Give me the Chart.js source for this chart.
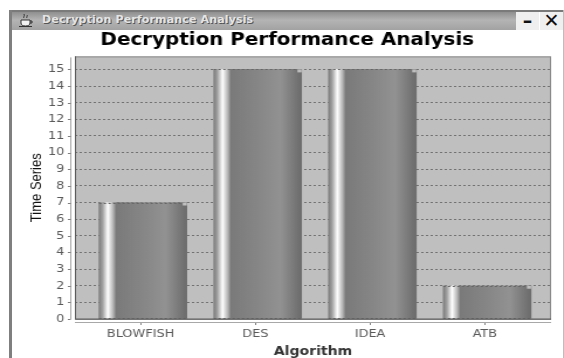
<!DOCTYPE html>
<html>
<head>
<meta charset="utf-8">
<title>Decryption Performance Analysis</title>
<script src="https://cdn.jsdelivr.net/npm/chart.js@4"></script>
<style>
  html, body { margin: 0; padding: 0; background: #fff; overflow: hidden; }
  #win { position: relative; width: 564px; height: 358px; overflow: hidden; }
  #frame-top { position: absolute; left: 9px; right: 0; top: 10px; height: 2px; background: #7a7a7a; }
  #frame-left { position: absolute; left: 9px; top: 10px; bottom: 0; width: 3px; background: #7f7f7f; }
  #frame-right { position: absolute; right: 0; top: 10px; bottom: 0; width: 1px; background: #bdbdbd; }
  #bar { position: absolute; left: 12px; top: 12px; width: 504px; height: 18px;
         background: linear-gradient(#8f8f8f, #b4b4b4 45%, #a2a2a2); }
  #bar span { position: absolute; left: 30px; top: 1px; font: bold 11px "DejaVu Sans", sans-serif;
              letter-spacing: 0.15px; color: #e4e4e4; text-shadow: 1px 1px 0 #555; white-space: nowrap; }
  #bar svg { position: absolute; left: 6px; top: 1px; }
  .btn { position: absolute; top: 12px; height: 18px; width: 23px; background: #efefef;
         font: bold 19px "DejaVu Sans", sans-serif; color: #111; text-align: center; line-height: 17px; }
  /* the chart panel is laid out narrow and widened to fill the window */
  canvas { position: absolute; left: 0; top: 0; transform-origin: 0 0; transform: scaleX(1.17); }
</style>
</head>
<body>
<div id="win">
  <div id="frame-top"></div>
  <div id="frame-left"></div>
  <div id="frame-right"></div>
  <div id="bar">
    <svg width="16" height="16" viewBox="0 0 16 16">
      <path d="M3 7h9v3c0 2-2 3-4.500 3S3 12 3 10z" fill="#f2f2f2" stroke="#333"/>
      <path d="M12 8h2v2h-2M1 13.500h13" fill="none" stroke="#333"/>
      <path d="M6 5c-1-1 1-2 0-4M9 5c-1-1 1-2 0-3" fill="none" stroke="#333"/>
    </svg>
    <span>Decryption Performance Analysis</span>
  </div>
  <div class="btn" style="left:516px">&#8211;</div>
  <div class="btn" style="left:540px">&#10005;</div>
  <canvas id="chart" width="482" height="358"></canvas>
</div>
<script>
// Decryption time per algorithm
const algorithms = ['BLOWFISH', 'DES', 'IDEA', 'ATB'];
const timeValues = [7, 15, 15, 2];
const timeTicks = [0, 1, 2, 3, 4, 5, 6, 7, 8, 9, 10, 11, 12, 13, 14, 15];

const PLOT_BG = '#bfbfbf';
const BAR_WIDTH = 75;

// Horizontal metallic shading of one bar
function barShade(ctx) {
  const x = ctx.chart.scales.x;
  if (!x || ctx.dataIndex === undefined) return '#808080';
  const cx = x.getPixelForValue(ctx.dataIndex);
  if (!Number.isFinite(cx)) return '#808080';
  const g = ctx.chart.ctx.createLinearGradient(cx - BAR_WIDTH / 2, 0, cx + BAR_WIDTH / 2, 0);
  g.addColorStop(0, '#7c7c7c');
  g.addColorStop(0.04, '#a0a0a0');
  g.addColorStop(0.10, '#ffffff');
  g.addColorStop(0.16, '#b4b4b4');
  g.addColorStop(0.195, '#7a7a7a');
  g.addColorStop(0.5, '#868686');
  g.addColorStop(0.76, '#929292');
  g.addColorStop(0.98, '#6e6e6e');
  g.addColorStop(1, '#6e6e6e');
  return g;
}

// Plot backdrop, offset axis lines, and the bar details
const plotDecor = {
  id: 'plotDecor',
  beforeDraw(chart) {
    const { ctx, chartArea: a } = chart;
    ctx.save();
    ctx.fillStyle = PLOT_BG;
    ctx.fillRect(a.left, a.top, a.right - a.left, a.bottom - a.top);
    ctx.restore();
  },
  afterDatasetsDraw(chart) {
    const { ctx, chartArea: a, scales } = chart;
    const meta = chart.getDatasetMeta(0);
    ctx.save();
    meta.data.forEach((el) => {
      const right = el.x + el.width / 2;
      const left = el.x - el.width / 2;
      // clipped top-right corner
      ctx.fillStyle = PLOT_BG;
      ctx.fillRect(right - 3.5, el.y, 3.5, 3);
      // dashed lines stay visible along the top and base of each bar
      ctx.strokeStyle = '#666666';
      ctx.lineWidth = 1;
      ctx.setLineDash([2, 2]);
      ctx.beginPath();
      ctx.moveTo(left, Math.round(el.y) + 0.5);
      ctx.lineTo(right - 3.5, Math.round(el.y) + 0.5);
      ctx.moveTo(left, Math.round(el.base) - 0.5);
      ctx.lineTo(right, Math.round(el.base) - 0.5);
      ctx.stroke();
      ctx.setLineDash([]);
    });

    // plot outline
    ctx.strokeStyle = '#8a8a8a';
    ctx.strokeRect(a.left + 0.5, a.top + 0.5, a.right - a.left - 1, a.bottom - a.top);
    ctx.strokeStyle = '#5c5c5c';
    ctx.beginPath();
    ctx.moveTo(a.left + 0.5, a.top);
    ctx.lineTo(a.left + 0.5, a.bottom);
    ctx.lineTo(a.right, a.bottom);
    ctx.stroke();

    // axis lines sit a few pixels clear of the plot
    ctx.strokeStyle = '#a8a8a8';
    ctx.beginPath();
    ctx.moveTo(a.left - 3.5, a.top + 1);
    ctx.lineTo(a.left - 3.5, a.bottom);
    ctx.moveTo(a.left, a.bottom + 3.5);
    ctx.lineTo(a.right, a.bottom + 3.5);
    ctx.stroke();
    ctx.strokeStyle = '#808080';
    ctx.beginPath();
    timeTicks.forEach((v) => {
      const y = Math.round(scales.y.getPixelForValue(v)) + 0.5;
      ctx.moveTo(a.left - 6, y);
      ctx.lineTo(a.left - 3.5, y);
    });
    algorithms.forEach((_, i) => {
      const x = Math.round(scales.x.getPixelForValue(i)) - 1.5;
      ctx.moveTo(x, a.bottom + 4);
      ctx.lineTo(x, a.bottom + 6);
    });
    ctx.stroke();
    ctx.restore();
  }
};

new Chart(document.getElementById('chart'), {
  type: 'bar',
  data: {
    datasets: [{
      data: algorithms.map((_, i) => ({ x: i, y: timeValues[i] })),
      backgroundColor: barShade,
      borderWidth: 0,
      barThickness: BAR_WIDTH
    }]
  },
  plugins: [plotDecor],
  options: {
    responsive: false,
    animation: false,
    devicePixelRatio: 1,
    layout: { padding: { left: 20, right: 11, top: 30, bottom: 0 } },
    plugins: {
      legend: { display: false },
      tooltip: { enabled: false },
      title: {
        display: true,
        text: 'Decryption Performance Analysis',
        color: '#000',
        font: { family: '"DejaVu Sans"', size: 17, weight: 'bold', lineHeight: 1.2 },
        padding: { top: 0, bottom: 6 }
      }
    },
    scales: {
      x: {
        type: 'linear',
        offset: false,
        min: -0.593,
        max: 3.557,
        afterBuildTicks(s) { s.ticks = algorithms.map((_, i) => ({ value: i })); },
        afterFit(s) { s.height = 39; },
        grid: { display: false, offset: false },
        border: { display: false },
        ticks: {
          autoSkip: false,
          maxRotation: 0,
          padding: 1,
          labelOffset: -2,
          color: '#5a5a5a',
          font: { family: '"DejaVu Sans"', size: 11 },
          callback: (v) => algorithms[v]
        },
        title: {
          display: true,
          text: 'Algorithm',
          color: '#333',
          padding: { top: 3, bottom: -1 },
          font: { family: '"DejaVu Sans"', size: 12, weight: 'bold' }
        }
      },
      y: {
        min: 0,
        max: 15.78,
        afterBuildTicks(s) { s.ticks = timeTicks.map((v) => ({ value: v })); },
        afterFit(s) { s.width = 44; },
        grid: { color: '#727272', lineWidth: 1, drawTicks: false },
        border: { display: false, dash: [2, 2] },
        ticks: {
          autoSkip: false,
          padding: 9,
          color: '#5a5a5a',
          font: { family: '"DejaVu Sans"', size: 11 }
        },
        title: {
          display: true,
          text: 'Time Series',
          color: '#111',
          padding: { top: 4, bottom: 0 },
          font: { family: '"Liberation Sans"', size: 13 }
        }
      }
    }
  }
});
</script>
</body>
</html>
